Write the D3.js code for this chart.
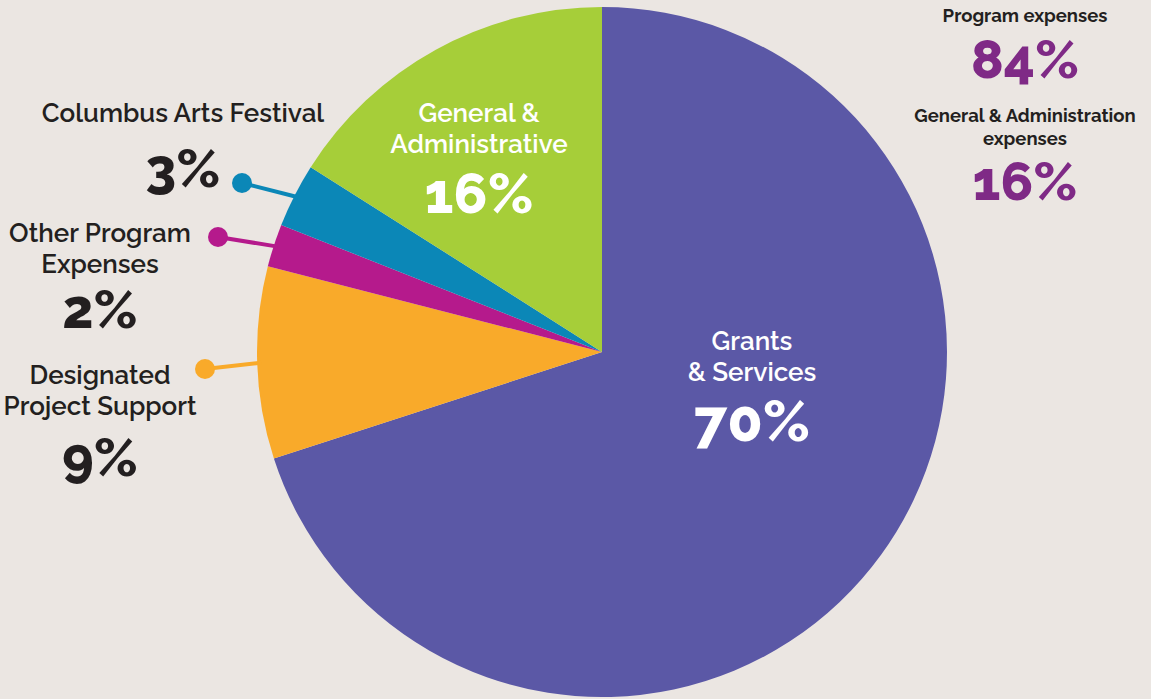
<!DOCTYPE html>
<html>
<head>
<meta charset="utf-8">
<script src="https://cdn.jsdelivr.net/npm/d3@7"></script>
<style>
  html, body { margin: 0; padding: 0; background: #ebe6e2; }
  svg { display: block; font-family: Raleway, Lato, 'Open Sans', sans-serif; }
</style>
</head>
<body>
<svg id="chart" width="1151" height="699"></svg>
<script>
// slices, clockwise from 12 o'clock
const categories = ['Grants & Services', 'Designated Project Support', 'Other Program Expenses', 'Columbus Arts Festival', 'General & Administrative']
const shares = [70, 9, 2, 3, 16]
const sliceColors = ['#5b58a6', '#f9aa2a', '#b51a8c', '#0b87b7', '#a6ce39']
// label lines as they are broken in the picture
const labelLines = [['Grants', '& Services'], ['Designated', 'Project Support'], ['Other Program', 'Expenses'], ['Columbus Arts Festival'], ['General &', 'Administrative']]
const summaryTitles = [['Program expenses'], ['General & Administration', 'expenses']]
const summaryValues = [84, 16]

const width = 1151
const height = 699
const cx = 602
const cy = 352
const radius = 345
const dark = '#231f20'
const summaryColor = '#7f2a86'

// where each label block sits (text centre x, first baseline y), inside or outside the pie
const labelLayout = [
  {x: 752, y: 350, inside: true, pctGap: 91, pctSize: 58},
  {x: 100, y: 384, inside: false, pctGap: 92, pctSize: 54, dot: [205, 369]},
  {x: 100, y: 242, inside: false, pctGap: 86, pctSize: 54, dot: [218, 237]},
  {x: 183, y: 122, inside: false, pctGap: 65, pctSize: 54, dot: [242, 183]},
  {x: 479, y: 122, inside: true, pctGap: 91, pctSize: 56}
]

let svg = d3.select('#chart')
svg.append('rect')
  .attr('width', width)
  .attr('height', height)
  .attr('fill', '#ebe6e2')

let pie = d3.pie().sort(null).value(d => d)
let arcs = pie(shares)
let arc = d3.arc().innerRadius(0).outerRadius(radius)

let g = svg.append('g').attr('transform', `translate(${cx},${cy})`)
g.selectAll('.slice')
  .data(arcs)
  .enter()
  .append('path')
  .classed('slice', true)
  .attr('d', arc)
  .attr('fill', (d, i) => sliceColors[i])

// leader lines with dots for the outside labels
arcs.forEach((d, i) => {
  let lay = labelLayout[i]
  if (lay.inside) return
  let mid = (d.startAngle + d.endAngle) / 2
  let ex = cx + Math.sin(mid) * (radius - 4)
  let ey = cy - Math.cos(mid) * (radius - 4)
  svg.append('line')
    .attr('x1', lay.dot[0])
    .attr('y1', lay.dot[1])
    .attr('x2', ex)
    .attr('y2', ey)
    .style('stroke', sliceColors[i])
    .style('stroke-width', 4)
  svg.append('circle')
    .attr('cx', lay.dot[0])
    .attr('cy', lay.dot[1])
    .attr('r', 10)
    .attr('fill', sliceColors[i])
})

// slice labels
categories.forEach((c, i) => {
  let lay = labelLayout[i]
  let color = lay.inside ? '#fff' : dark
  let t = svg.append('text')
    .attr('text-anchor', 'middle')
    .attr('fill', color)
    .style('font-size', '26px')
    .style('font-weight', 600)
  labelLines[i].forEach((line, j) => {
    t.append('tspan')
      .attr('x', lay.x)
      .attr('y', lay.y + j * 31)
      .text(line)
  })
  svg.append('text')
    .attr('x', lay.x)
    .attr('y', lay.y + lay.pctGap)
    .attr('text-anchor', 'middle')
    .attr('fill', color)
    .style('font-size', lay.pctSize + 'px')
    .style('font-weight', 800)
    .text(shares[i] + '%')
})

// summary block on the right
let summaryY = [22, 122]
let summaryPctY = [78, 200]
summaryTitles.forEach((lines, i) => {
  let t = svg.append('text')
    .attr('text-anchor', 'middle')
    .attr('fill', dark)
    .style('font-size', '18.5px')
    .style('font-weight', 700)
  lines.forEach((line, j) => {
    t.append('tspan')
      .attr('x', 1025)
      .attr('y', summaryY[i] + j * 23)
      .text(line)
  })
  svg.append('text')
    .attr('x', 1025)
    .attr('y', summaryPctY[i])
    .attr('text-anchor', 'middle')
    .attr('fill', summaryColor)
    .style('font-size', '54px')
    .style('font-weight', 800)
    .text(summaryValues[i] + '%')
})
</script>
</body>
</html>
